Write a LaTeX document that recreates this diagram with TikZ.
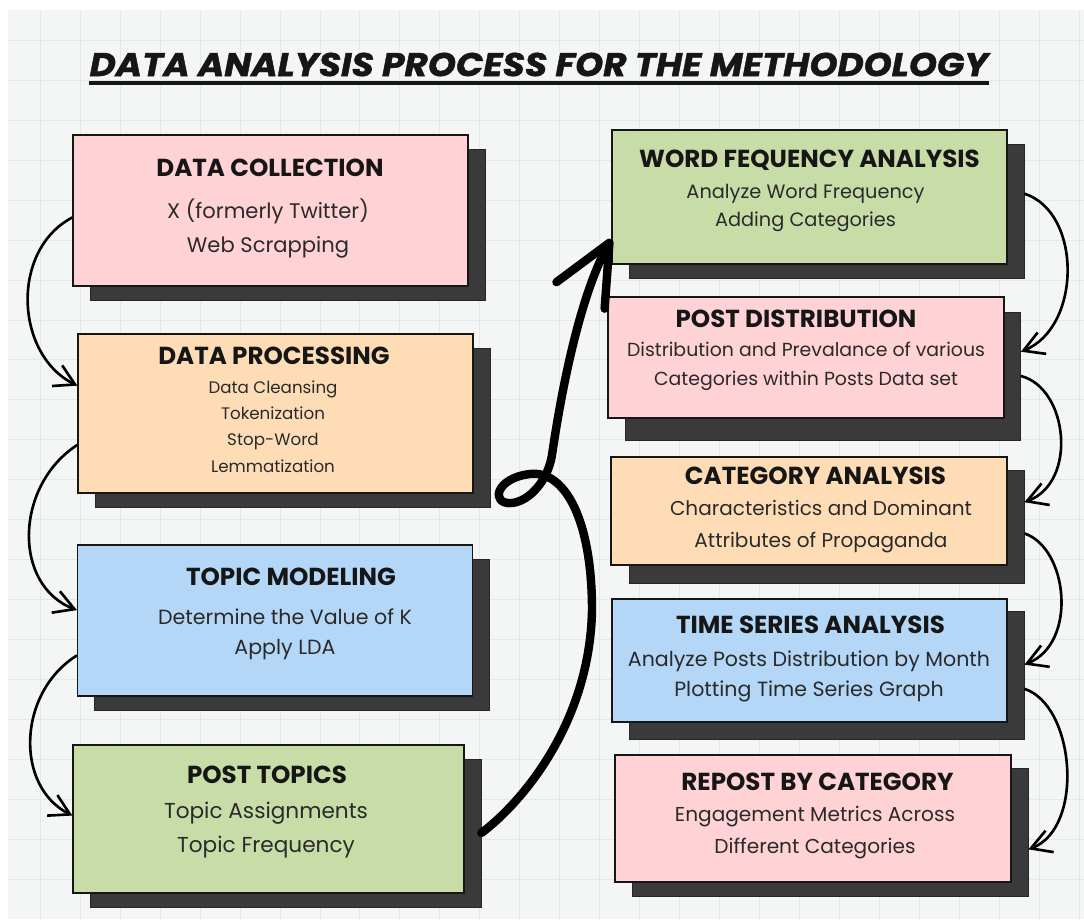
\documentclass[tikz,border=0pt]{standalone}
\usepackage{fontspec}
\setmainfont{Poppins}
\usetikzlibrary{arrows.meta}

\definecolor{cardpink}{HTML}{FFD2D6}
\definecolor{cardpeach}{HTML}{FEDDB6}
\definecolor{cardblue}{HTML}{B4D7F7}
\definecolor{cardgreen}{HTML}{C8DCA8}
\definecolor{cardshade}{HTML}{3A3A3A}
\definecolor{paper}{HTML}{F4F5F5}
\definecolor{gridline}{HTML}{E3E9E9}
\definecolor{ink}{HTML}{161616}
\definecolor{softink}{HTML}{2A2A2A}

\begin{document}
\begin{tikzpicture}[x=0.02cm, y=-0.02cm,
    card/.style={draw=ink, line width=0.7pt, minimum width=7.9cm, inner sep=0pt},
    cardshadow/.style={fill=cardshade, draw=black!85, line width=0.5pt, minimum width=7.9cm, inner sep=0pt},
    cardtitle/.style={font=\bfseries\fontsize{14}{16}\selectfont, text=ink, inner sep=0pt},
    cardtext/.style={align=center, text=softink, inner sep=0pt},
    flow/.style={line width=1.5pt, -{Straight Barb[length=4mm, width=4.6mm]}},
    bigflow/.style={line width=4.8pt, line cap=round, line join=round,
        -{Straight Barb[length=12mm, width=11mm, round]}}]

    % paper
    \useasboundingbox (0,0) rectangle (1084,919);
    \fill[white] (0,0) rectangle (1084,919);
    \fill[paper] (8,10) rectangle (1084,919);
    \draw[gridline, line width=0.5pt, step=0.8cm] (8,10) grid (1084,919);

    % heading
    \node[inner sep=0pt, text=ink, font=\bfseries\itshape\fontsize{18.7}{22}\selectfont\addfontfeatures{FakeBold=1.2}] (title) at (539,64.5)
        {\scalebox{1.09}[1]{DATA ANALYSIS PROCESS FOR THE METHODOLOGY}};
    \draw[ink, line width=2.2pt] ([yshift=-3.5pt]title.south west) -- ([yshift=-3.5pt]title.south east);

    % left column
    \node[cardshadow, minimum height=3.02cm] (dc-s) at (287.5,224.5) {};
    \node[card, fill=cardpink, minimum height=3.02cm] (dc) at (270.5,210.5) {};
    \node[cardtitle] (dc-t) at (270,168) {DATA COLLECTION};
    \node[cardtext, font=\fontsize{12}{18.8}\selectfont] (dc-b) at (268,228.5)
        {X (formerly Twitter)\\Web Scrapping};

    \node[cardshadow, minimum height=3.18cm] (dp-s) at (292.5,427.5) {};
    \node[card, fill=cardpeach, minimum height=3.18cm] (dp) at (275.5,413.5) {};
    \node[cardtitle] (dp-t) at (274,356) {DATA PROCESSING};
    \node[cardtext, font=\fontsize{9.5}{15}\selectfont] (dp-b) at (273,426.5)
        {Data Cleansing\\Tokenization\\Stop-Word\\Lemmatization};

    \node[cardshadow, minimum height=3.02cm] (tm-s) at (292,634.5) {};
    \node[card, fill=cardblue, minimum height=3.02cm] (tm) at (275,620.5) {};
    \node[cardtitle] (tm-t) at (291,577) {TOPIC MODELING};
    \node[cardtext, font=\fontsize{11.7}{17}\selectfont] (tm-b) at (285,634)
        {Determine the Value of K\\Apply LDA};

    \node[cardshadow, minimum width=7.82cm, minimum height=2.96cm] (pt-s) at (285.5,833) {};
    \node[card, fill=cardgreen, minimum width=7.82cm, minimum height=2.96cm] (pt) at (268.5,819) {};
    \node[cardtitle] (pt-t) at (267,775) {POST TOPICS};
    \node[cardtext, font=\fontsize{12.3}{19.3}\selectfont] (pt-b) at (266,830)
        {Topic Assignments\\Topic Frequency};

    % right column
    \node[cardshadow, minimum height=2.68cm] (wfa-s) at (826.5,211) {};
    \node[card, fill=cardgreen, minimum height=2.68cm] (wfa) at (809.5,197) {};
    \node[cardtitle] (wfa-t) at (809.5,160) {WORD FEQUENCY ANALYSIS};
    \node[cardtext, font=\fontsize{11}{15.9}\selectfont] (wfa-b) at (805.5,208)
        {Analyze Word Frequency\\Adding Categories};

    \node[cardshadow, minimum height=2.56cm] (pd-s) at (823,376) {};
    \node[card, fill=cardpink, minimum width=7.92cm, minimum height=2.42cm] (pd) at (806,357.5) {};
    \node[cardtitle] (pd-t) at (796,319) {POST DISTRIBUTION};
    \node[cardtext, font=\fontsize{10.75}{16.5}\selectfont] (pd-b) at (806,366.5)
        {Distribution and Prevalance of various\\Categories within Posts Data set};

    \node[cardshadow, minimum height=2.26cm] (ca-s) at (826.5,526.5) {};
    \node[card, fill=cardpeach, minimum width=7.92cm, minimum height=2.16cm] (ca) at (809,511) {};
    \node[cardtitle] (ca-t) at (815.5,476) {CATEGORY ANALYSIS};
    \node[cardtext, font=\fontsize{11.4}{18.2}\selectfont] (ca-b) at (821,527)
        {Characteristics and Dominant\\Attributes of Propaganda};

    \node[cardshadow, minimum height=2.56cm] (tsa-s) at (826.5,675) {};
    \node[card, fill=cardblue, minimum height=2.46cm] (tsa) at (809.5,660.5) {};
    \node[cardtitle] (tsa-t) at (810.5,625) {TIME SERIES ANALYSIS};
    \node[cardtext, font=\fontsize{11.7}{17.1}\selectfont] (tsa-b) at (809,676)
        {Analyze Posts Distribution by Month\\Plotting Time Series Graph};

    \node[cardshadow, minimum width=7.92cm, minimum height=2.56cm] (rbc-s) at (830,832) {};
    \node[card, fill=cardpink, minimum width=7.92cm, minimum height=2.54cm] (rbc) at (813,818.5) {};
    \node[cardtitle] (rbc-t) at (817.5,782) {REPOST BY CATEGORY};
    \node[cardtext, font=\fontsize{11.45}{18.2}\selectfont] (rbc-b) at (815,833)
        {Engagement Metrics Across\\Different Categories};

    % thin arrows, left side
    \draw[flow] (dc.182) .. controls (10,250) and (15,355) .. (dp.172);
    \draw[flow] (dp.189) .. controls (15,485) and (12,585) .. (tm.177);
    \draw[flow] (tm.190) .. controls (18,692) and (14,786) .. (pt.179);

    % thin arrows, right side
    \draw[flow] (wfa-s.5) .. controls (1082,212) and (1082,327) .. (pd-s.7.5);
    \draw[flow] (pd-s.east) .. controls (1068,388) and (1078,482) .. (ca-s.7);
    \draw[flow] (ca-s.-2) .. controls (1068,548) and (1078,643) .. (tsa-s.3);
    \draw[flow] (tsa-s.-4) .. controls (1075,705) and (1085,828) .. (rbc-s.-5.5);

    % big loop arrow
    \draw[bigflow] (pt-s.east) .. controls (525,800) and (590,720) .. (592,610)
        .. controls (592,520) and (565,470) .. (530,474)
        .. controls (495,478) and (490,505) .. (512,503)
        .. controls (530,501) and (548,480) .. (552,455)
        .. controls (560,400) and (578,300) .. (wfa.192);
\end{tikzpicture}
\end{document}
